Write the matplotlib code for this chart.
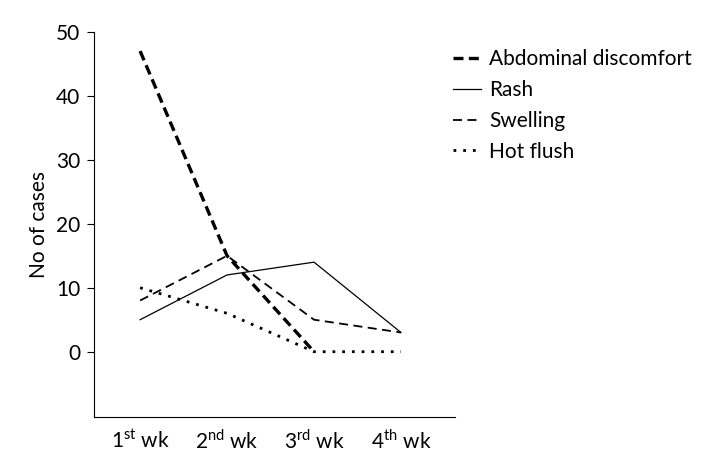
import matplotlib
matplotlib.use('Agg')
from matplotlib import pyplot as plt

plt.rcParams['font.family'] = ['Lato', 'DejaVu Sans']
plt.rcParams['mathtext.fontset'] = 'custom'
plt.rcParams['mathtext.rm'] = 'Lato'

weeks = [1, 2, 3, 4]
week_labels = ['1$^{\\rm st}$ wk', '2$^{\\rm nd}$ wk', '3$^{\\rm rd}$ wk', '4$^{\\rm th}$ wk']

abdominal = [47, 15, 0]
rash = [5, 12, 14, 3]
swelling = [8, 15, 5, 3]
hot_flush = [10, 6, 0, 0]

fig = plt.figure(figsize=(7.09, 4.69), dpi=100)
ax = fig.add_axes([0.1326, 0.111, 0.509, 0.821])

ax.plot(weeks[:3], abdominal, color='black', lw=2.4, ls=(0, (3, 1.6)), label='Abdominal discomfort')
ax.plot(weeks, rash, color='black', lw=0.9, ls='-', label='Rash')
ax.plot(weeks, swelling, color='black', lw=1.3, ls=(0, (5, 3)), label='Swelling')
ax.plot(weeks, hot_flush, color='black', lw=2.0, ls=(0, (1, 2.5)), label='Hot flush')

ax.set_xlim(0.47, 4.62)
ax.set_ylim(-10.2, 50)
ax.set_yticks([0, 10, 20, 30, 40, 50])
ax.set_xticks(weeks)
ax.set_xticklabels(week_labels)
ax.tick_params(axis='x', length=0, pad=9, labelsize=15)
ax.tick_params(axis='y', length=5, width=0.8, pad=5, labelsize=15)
ax.spines['top'].set_visible(False)
ax.spines['right'].set_visible(False)
ax.spines['left'].set_linewidth(0.8)
ax.spines['bottom'].set_linewidth(0.8)
ax.set_ylabel('No of cases', fontsize=15, labelpad=5)

fig.legend(loc='upper left', bbox_to_anchor=(0.613, 0.935), frameon=False,
           fontsize=15, handlelength=1.35, handletextpad=0.38, labelspacing=0.52)

fig.savefig('out.png', dpi=100)
